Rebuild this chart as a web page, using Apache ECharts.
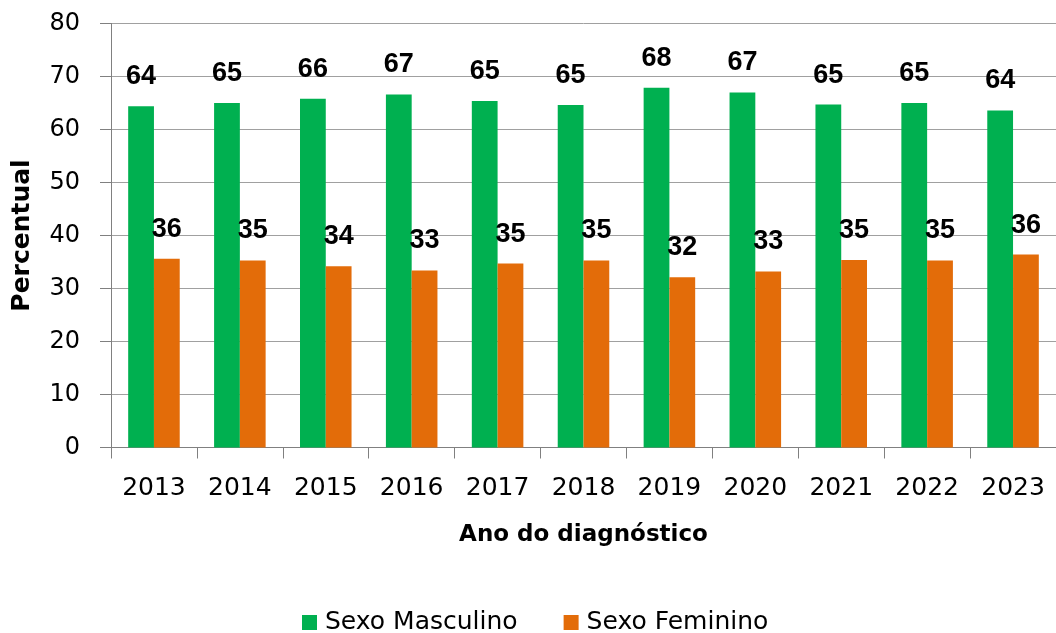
<!DOCTYPE html>
<html>
<head>
<meta charset="utf-8">
<script src="https://cdn.jsdelivr.net/npm/echarts@6/dist/echarts.min.js"></script>
<style>
html,body{margin:0;padding:0;background:#fff;}
#chart{width:1056px;height:633px;}
</style>
</head>
<body>
<div id="chart"></div>
<script>
const categories = ['2013','2014','2015','2016','2017','2018','2019','2020','2021','2022','2023'];
const masculino = [64.4, 65.0, 65.8, 66.6, 65.4, 64.6, 67.9, 67.0, 64.7, 65.0, 63.6];
const feminino  = [35.6, 35.3, 34.2, 33.4, 34.7, 35.3, 32.1, 33.2, 35.4, 35.3, 36.4];
const seriesNames = ['Sexo Masculino', 'Sexo Feminino'];
const yTicks = {min: 0, max: 80, interval: 10};

const chart = echarts.init(document.getElementById('chart'), null, {renderer: 'canvas'});
const labelStyle = {
  show: true,
  position: 'top',
  distance: 16,
  fontFamily: 'Liberation Sans',
  fontWeight: 'bold',
  fontSize: 27,
  color: '#000',
  formatter: p => Math.round(p.value)
};
chart.setOption({
  backgroundColor: '#ffffff',
  animation: false,
  grid: {left: 111, top: 23.5, width: 948, height: 424, containLabel: false},
  legend: {
    left: 297, top: 605,
    itemWidth: 15, itemHeight: 15, itemGap: 46,
    icon: 'rect',
    textStyle: {fontFamily: 'DejaVu Sans', fontSize: 25, color: '#000', padding: [0, 0, 0, 3]},
    data: seriesNames
  },
  xAxis: {
    type: 'category',
    data: categories,
    name: 'Ano do diagnóstico',
    nameLocation: 'middle',
    nameGap: 76,
    nameTextStyle: {fontFamily: 'DejaVu Sans', fontWeight: 'bold', fontSize: 23, color: '#000'},
    axisLine: {lineStyle: {color: '#808080', width: 1}},
    axisTick: {show: true, length: 11, lineStyle: {color: '#808080'}},
    axisLabel: {fontFamily: 'DejaVu Sans', fontSize: 25, color: '#000', margin: 28}
  },
  yAxis: {
    type: 'value',
    min: yTicks.min, max: yTicks.max, interval: yTicks.interval,
    name: 'Percentual',
    nameLocation: 'middle',
    nameGap: 76,
    nameTextStyle: {fontFamily: 'DejaVu Sans', fontWeight: 'bold', fontSize: 25, color: '#000'},
    axisLine: {show: true, lineStyle: {color: '#808080', width: 1}},
    axisTick: {show: true, length: 11, lineStyle: {color: '#808080'}},
    axisLabel: {fontFamily: 'DejaVu Sans', fontSize: 24, color: '#000', margin: 31},
    splitLine: {show: true, lineStyle: {color: '#a0a0a0', width: 1}}
  },
  series: [
    {
      name: seriesNames[0], type: 'bar', data: masculino,
      itemStyle: {color: '#00B050'},
      barGap: '0%', barCategoryGap: '40%',
      label: labelStyle
    },
    {
      name: seriesNames[1], type: 'bar', data: feminino,
      itemStyle: {color: '#E36C09'},
      barGap: '0%', barCategoryGap: '40%',
      label: labelStyle
    }
  ]
});
</script>
</body>
</html>
